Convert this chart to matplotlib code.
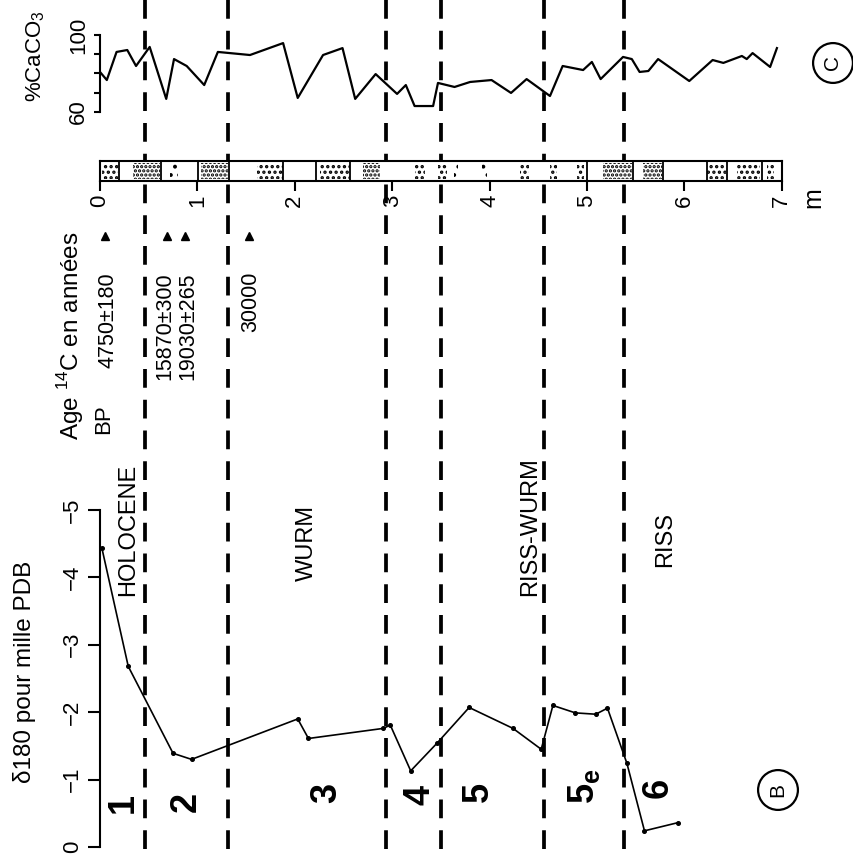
import matplotlib
matplotlib.use('Agg')
import matplotlib.pyplot as plt

plt.rcParams['font.family'] = ['Liberation Sans', 'DejaVu Sans']
plt.rcParams['mathtext.fontset'] = 'custom'
plt.rcParams['mathtext.rm'] = 'Liberation Sans'
plt.rcParams['mathtext.bf'] = 'Liberation Sans:bold'
plt.rcParams['axes.linewidth'] = 1.5
plt.rcParams['hatch.linewidth'] = 1.6

# ---------------- data ----------------
# delta 18O (per mil PDB) vs depth (m)
d18o_depth = [0.02, 0.29, 0.75, 0.94, 2.03, 2.14, 2.91, 2.98, 3.19, 3.46,
              3.79, 4.24, 4.53, 4.65, 4.88, 5.09, 5.21, 5.41, 5.59, 5.93]
d18o_value = [-4.43, -2.68, -1.39, -1.30, -1.90, -1.61, -1.76, -1.81, -1.13, -1.54,
              -2.07, -1.76, -1.45, -2.10, -1.99, -1.97, -2.06, -1.24, -0.24, -0.36]

# % CaCO3 vs depth (m)
caco3_depth = [0.00, 0.07, 0.17, 0.28, 0.37, 0.51, 0.68, 0.76, 0.89, 1.07,
               1.21, 1.54, 1.88, 2.03, 2.29, 2.49, 2.62, 2.83, 3.05, 3.14,
               3.23, 3.42, 3.47, 3.64, 3.80, 4.02, 4.22, 4.38, 4.62, 4.75,
               4.96, 5.05, 5.14, 5.37, 5.46, 5.54, 5.63, 5.73, 6.05, 6.29,
               6.40, 6.59, 6.64, 6.70, 6.88, 6.95]
caco3_value = [80.8, 76.6, 91.2, 92.2, 83.9, 93.8, 66.8, 87.5, 83.9, 74.0,
               91.2, 89.6, 95.8, 67.3, 89.6, 93.2, 66.8, 79.7, 69.4, 74.0,
               63.1, 63.1, 75.1, 73.0, 75.6, 76.6, 69.9, 77.1, 68.3, 83.9,
               81.8, 86.0, 77.1, 88.6, 87.5, 80.8, 81.3, 87.5, 76.1, 87.0,
               85.5, 89.1, 87.5, 90.6, 83.4, 93.2]

# stage / epoch boundaries (m)
boundaries = [0.46, 1.31, 2.94, 3.50, 4.56, 5.38]

# isotopic stages
stage_labels = ['1', '2', '3', '4', '5', '5$_{\\mathbf{e}}$', '6']
stage_depth = [0.24, 0.89, 2.33, 3.29, 3.88, 4.97, 5.73]

# epochs
epoch_labels = ['HOLOCENE', 'WURM', 'RISS-WURM', 'RISS']
epoch_depth = [0.29, 2.12, 4.42, 5.80]

# 14C ages
age_labels = ['4750±180', '15870±300', '19030±265', '30000']
age_depth = [0.05, 0.69, 0.87, 1.53]

# core lithology: patterned intervals (top, bottom, hatch)
lith_top = [0.02, 0.34, 0.72, 1.04, 1.61, 2.26, 2.70, 3.23, 3.47, 3.63,
            3.92, 4.31, 4.62, 4.90, 5.16, 5.58, 6.23, 6.54, 6.85]
lith_bot = [0.18, 0.62, 0.80, 1.31, 1.88, 2.57, 2.87, 3.34, 3.56, 3.68,
            3.97, 4.40, 4.69, 4.97, 5.46, 5.77, 6.43, 6.78, 6.92]
lith_hatch = ['...', '....', '..', '....', '...', '...', '....', '...', '...', '..',
              '..', '...', '...', '...', '....', '....', '...', '...', '...']
lith_lines = [0.19, 0.63, 1.01, 1.32, 1.88, 2.22, 2.57, 5.00, 5.47, 5.78,
              6.23, 6.44, 6.80]

core_ticks = [0, 1, 2, 3, 4, 5, 6, 7]
d18o_ticks = [0, -1, -2, -3, -4, -5]
caco3_ticks = [60, 70, 80, 90, 100]

# ---------------- layout ----------------
W, H = 854, 863
X0, PXM = 100.0, 97.4          # pixel of depth 0, pixels per metre
fig = plt.figure(figsize=(W / 100, H / 100), dpi=100)


def rect(y_top, y_bot, d0=0.0, d1=7.0):
    return [(X0 + PXM * d0) / W, 1 - y_bot / H, PXM * (d1 - d0) / W, (y_bot - y_top) / H]


def T(x, y, s, **kw):
    kw.setdefault('rotation', 90)
    kw.setdefault('ha', 'center')
    kw.setdefault('va', 'center')
    return fig.text(x / W, 1 - y / H, s, **kw)


# background axes: depth horizontally, pixels vertically
bg = fig.add_axes([0, 0, 1, 1], zorder=0)
bg.set_xlim(-X0 / PXM, (W - X0) / PXM)
bg.set_ylim(H, 0)
bg.axis('off')
for b in boundaries:
    bg.plot([b, b], [0, 850], color='black', lw=2.7, dashes=(5, 3.2), solid_capstyle='butt')

# age arrows and labels
bg.plot(age_depth, [236] * len(age_depth), linestyle='none', marker='^',
        color='black', markersize=6)
age_text_shift = [0.03, -0.02, 0.03, 0.02]
for lab, d, dx in zip(age_labels, age_depth, age_text_shift):
    bg.text(d + dx, 272, lab, rotation=90, ha='center', va='top', fontsize=15.5)

# stage numbers
stage_y = [803, 802, 793, 795, 792, 786, 788]
for lab, d, y in zip(stage_labels, stage_depth, stage_y):
    bg.text(d, y, lab, rotation=90, ha='center', va='center', fontsize=26,
            fontweight='bold')

# epochs
epoch_y = [530, 543, 527, 539]
for lab, d, y in zip(epoch_labels, epoch_depth, epoch_y):
    bg.text(d, y, lab, rotation=90, ha='center', va='center', fontsize=17)

# ---------------- core column ----------------
core = fig.add_axes(rect(161, 181), zorder=3)
core.set_facecolor('white')
core.set_xlim(0, 7)
core.set_ylim(0, 1)
for t, b, h in zip(lith_top, lith_bot, lith_hatch):
    core.bar((t + b) / 2, 0.76, width=b - t, bottom=0.12, color='none',
             edgecolor='black', hatch=h, linewidth=0)
for x in lith_lines:
    core.axvline(x, color='black', lw=1.3)
core.set_yticks([])
core.set_xticks(core_ticks)
core.set_xticklabels([str(t) for t in core_ticks], rotation=90, fontsize=16)
core.tick_params(axis='x', direction='out', length=7, width=1.5, pad=3)

# ---------------- CaCO3 ----------------
ca = fig.add_axes(rect(35, 112), zorder=2)
ca.set_facecolor('none')
ca.set_xlim(0, 7)
ca.set_ylim(60, 100)
ca.plot(caco3_depth, caco3_value, color='black', lw=1.6)
for s in ['top', 'right', 'bottom']:
    ca.spines[s].set_visible(False)
ca.spines['left'].set_bounds(60, 100)
ca.set_xticks([])
ca.set_yticks(caco3_ticks)
ca.set_yticklabels(['60', '', '', '', '100'], rotation=90, va='center', fontsize=16)
ca.tick_params(axis='y', direction='out', length=4, width=1.5, pad=4)

# ---------------- delta 18O ----------------
ox = fig.add_axes(rect(510, 847), zorder=2)
ox.set_facecolor('none')
ox.set_xlim(0, 7)
ox.set_ylim(0, -5)
ox.plot(d18o_depth, d18o_value, color='black', lw=1.2, marker='o', markersize=2.6)
for s in ['top', 'right', 'bottom']:
    ox.spines[s].set_visible(False)
ox.spines['left'].set_bounds(0, -5)
ox.set_xticks([])
ox.set_yticks(d18o_ticks)
ox.set_yticklabels(['0' if t == 0 else '\u2212%d' % abs(t) for t in d18o_ticks],
                   rotation=90, va='center', fontsize=16)
ox.tick_params(axis='y', direction='out', length=9, width=1.5, pad=3)

# ---------------- texts ----------------
T(25, 672, '\u03b4180 pour mille PDB', fontsize=17.5)
T(36, 56, '%CaCO$_3$', fontsize=16)
T(71, 336, 'Age $^{14}$C en ann\u00e9es', fontsize=17.5)
T(104, 419, 'BP', fontsize=16)
T(813, 198, 'm', fontsize=18)
T(833, 63, 'C', fontsize=15,
  bbox=dict(boxstyle='circle,pad=0.5', fc='none', ec='black', lw=1.6))
T(778, 790, 'B', fontsize=15,
  bbox=dict(boxstyle='circle,pad=0.5', fc='none', ec='black', lw=1.6))

fig.savefig('out.png', dpi=100)
